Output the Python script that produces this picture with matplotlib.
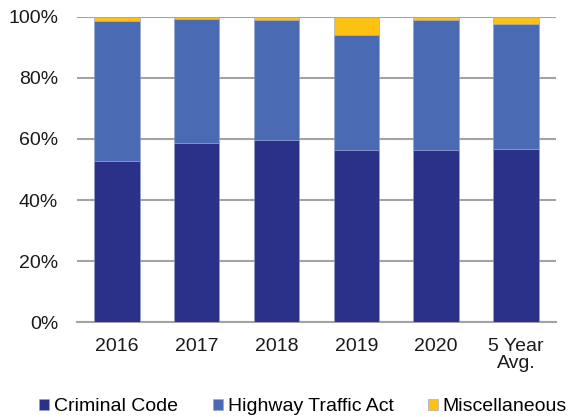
import matplotlib.pyplot as plt
import numpy as np

plt.rcParams['font.family'] = ['Liberation Sans', 'DejaVu Sans']

# categories and shares (%)
categorias = ['2016', '2017', '2018', '2019', '2020', '5 Year\nAvg.']
criminal_code = [52.8, 58.6, 59.8, 56.4, 56.4, 56.7]
highway_traffic = [45.9, 40.7, 39.1, 37.5, 42.4, 40.9]
miscellaneous = [1.3, 0.7, 1.1, 6.1, 1.2, 2.4]

cores = ['#2b3189', '#4a6ab3', '#fcc111']

fig = plt.figure(figsize=(5.72, 4.17), dpi=100)
ax = fig.add_axes([0.1346, 0.2271, 0.8374, 0.7329])

x = np.arange(len(categorias))
base = np.zeros(len(categorias))
series = [('Criminal Code', criminal_code), ('Highway Traffic Act', highway_traffic),
          ('Miscellaneous', miscellaneous)]
for (nome, valores), cor in zip(series, cores):
    ax.bar(x, valores, 0.57, bottom=base, color=cor, label=nome,
           edgecolor='#8fa3d4', linewidth=0.4, zorder=3)
    base = base + np.array(valores)

ax.set_xlim(-0.5, len(categorias) - 0.5)
ax.set_ylim(0, 100)
ax.set_yticks(range(0, 101, 20))
ax.set_yticklabels([f'{v}%' for v in range(0, 101, 20)])
ax.set_xticks(x)
ax.set_xticklabels(categorias, linespacing=1.0)
ax.yaxis.grid(True, color='#a3a3a3', linewidth=1.5, zorder=0)
for s in ['top', 'right', 'left']:
    ax.spines[s].set_visible(False)
ax.spines['bottom'].set_color('#a3a3a3')
ax.spines['bottom'].set_linewidth(1.5)
ax.tick_params(axis='both', length=0, labelsize=14, colors='#1a1a1a')
ax.tick_params(axis='y', pad=13.5)
ax.tick_params(axis='x', pad=11)

handles, labels = ax.get_legend_handles_labels()
fig.legend(handles, labels, loc='center', bbox_to_anchor=(0.53, 0.024), ncol=3,
           frameon=False, fontsize=14, handlelength=0.52, handleheight=0.52,
           handletextpad=0.26, columnspacing=1.75, borderpad=0, borderaxespad=0)

fig.savefig('out.png', dpi=100)
